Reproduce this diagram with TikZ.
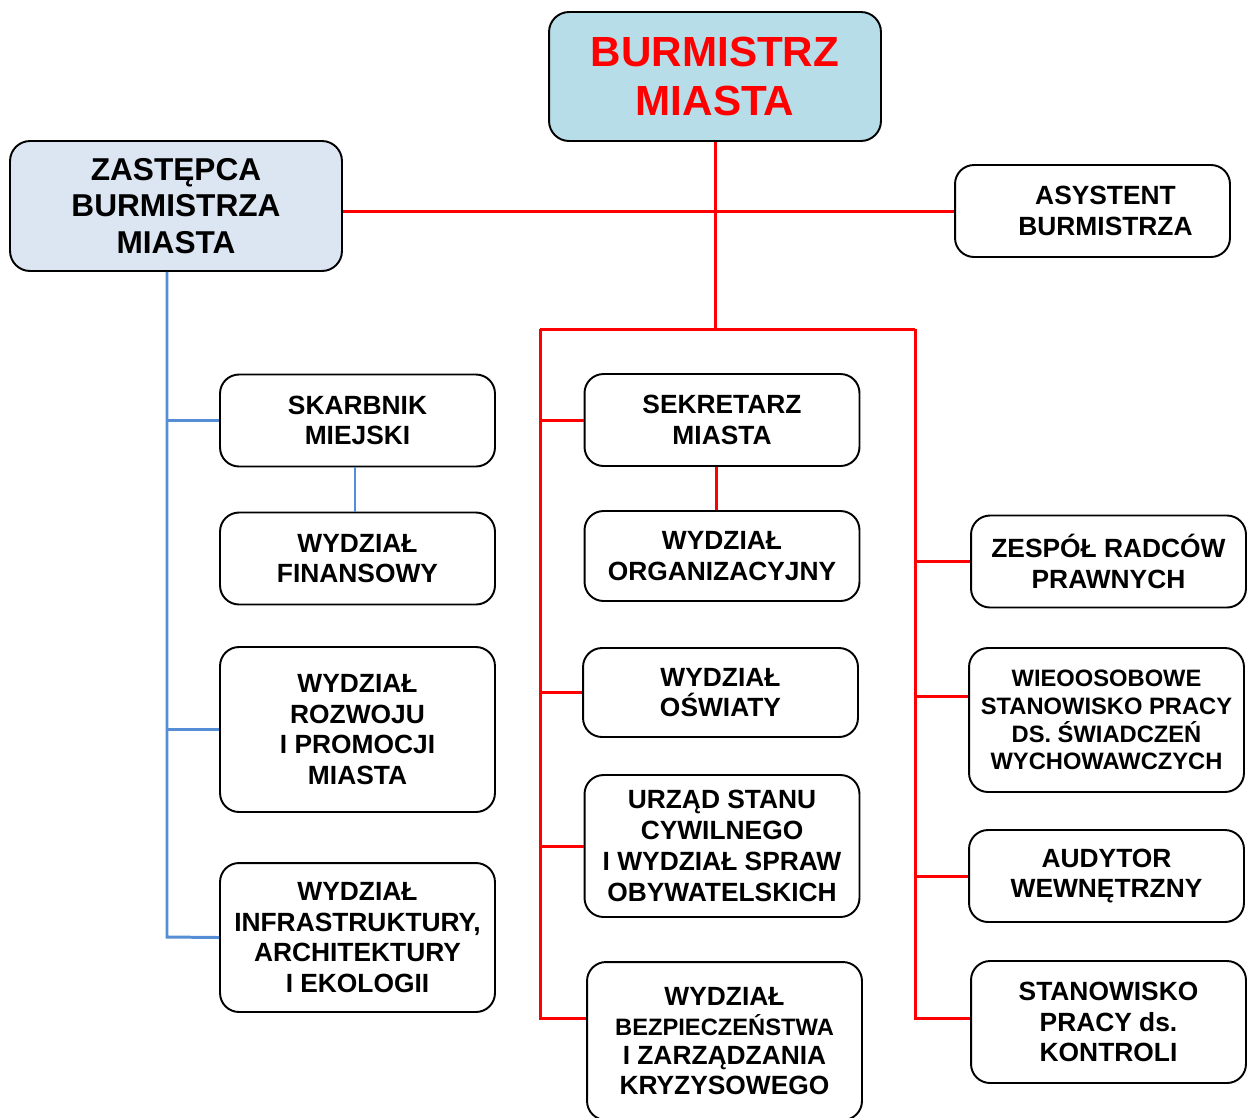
\documentclass[tikz,border=0pt]{standalone}
\usepackage{fontspec}
\setmainfont{Liberation Sans}
\definecolor{burmfill}{RGB}{183,222,232}
\definecolor{zastfill}{RGB}{220,230,242}
\definecolor{blueline}{RGB}{85,142,213}
\tikzset{
  box/.style={draw,line width=1.1pt,rounded corners=0.38cm,align=center,inner sep=0pt,
    font=\bfseries\fontsize{15}{17.5}\selectfont,minimum width=5.5cm,minimum height=1.84cm},
  redline/.style={draw=red,line width=1.7pt},
  blueline/.style={draw=blueline,line width=1.7pt}
}
\begin{document}
\begin{tikzpicture}[x=0.02cm,y=-0.02cm]

      \useasboundingbox (0,0) rectangle (1247,1117);

      \begin{scope}[every node/.style={box}]
        \node[fill=burmfill,text=red,rounded corners=0.4cm,minimum width=6.64cm,minimum height=2.58cm,
          font=\bfseries\fontsize{24}{28.4}\selectfont] (burm) at (715,76.5) {BURMISTRZ\\MIASTA};
        \node[fill=zastfill,rounded corners=0.4cm,minimum width=6.64cm,minimum height=2.6cm,
          font=\bfseries\fontsize{18}{20.8}\selectfont] (zast) at (176,206) {ZASTĘPCA\\BURMISTRZA\\MIASTA};
        \node (asys)  at (1092.5,211)  {\hspace*{0.52cm}ASYSTENT\\\hspace*{0.52cm}BURMISTRZA};
        \node (skarb) at (357.5,420.5) {SKARBNIK\\MIEJSKI};
        \node (wfin)  at (357.5,558.5) {WYDZIAŁ\\FINANSOWY};
        \node[minimum height=3.3cm] (wroz) at (357.5,729.5) {WYDZIAŁ\\ROZWOJU\\I PROMOCJI\\MIASTA};
        \node[minimum height=2.98cm] (winf) at (357.5,937.5) {WYDZIAŁ\\INFRASTRUKTURY,\\ARCHITEKTURY\\I EKOLOGII};
        \node (sekr)  at (722,420)     {SEKRETARZ\\MIASTA};
        \node[minimum height=1.8cm] (worg) at (722,556) {WYDZIAŁ\\ORGANIZACYJNY};
        \node[minimum height=1.78cm] (wosw) at (720.5,692.5) {WYDZIAŁ\\OŚWIATY};
        \node[minimum height=2.84cm] (usc) at (722,846) {URZĄD STANU\\CYWILNEGO\\I WYDZIAŁ SPRAW\\OBYWATELSKICH};
        \node[minimum height=3.16cm,font=\bfseries\fontsize{15}{16.9}\selectfont] (wbez) at (724.5,1041)
          {WYDZIAŁ\\{\fontsize{13.5}{16.9}\selectfont BEZPIECZEŃSTWA}\\I ZARZĄDZANIA\\KRYZYSOWEGO};
        \node (zesp)  at (1108.5,561.5) {ZESPÓŁ RADCÓW\\PRAWNYCH};
        \node[minimum height=2.88cm,font=\bfseries\fontsize{13.5}{15.8}\selectfont] (wieo) at (1106.5,720)
          {WIEOOSOBOWE\\STANOWISKO PRACY\\DS. ŚWIADCZEŃ\\WYCHOWAWCZYCH};
        \node (audyt) at (1106.5,876)  {AUDYTOR\\WEWNĘTRZNY};
        \node[minimum height=2.44cm] (stan) at (1108.5,1022) {STANOWISKO\\PRACY ds.\\KONTROLI};
      \end{scope}

      \coordinate (rl) at (540,329);
      \coordinate (rr) at (915,329);
      \coordinate (lb) at (540,1018);
      \coordinate (rb) at (915,1018);
      \coordinate (wb) at (915,696);
      \coordinate (sw) at (716,0);
      \coordinate (sk) at (355,0);
      \coordinate (bb) at (167,937);

      \begin{scope}[redline]
        \draw (burm) -- (burm |- rl);
        \draw (zast.east |- asys.west) -- (asys.west);
        \draw (rl) -- (rr);
        \draw (rl) -- (lb) -- (lb -| wbez.west);
        \draw (rl |- sekr) -- (sekr.west);
        \draw (rl |- wosw) -- (wosw.west);
        \draw (rl |- usc) -- (usc.west);
        \draw (sekr.south -| sw) -- (worg.north -| sw);
        \draw (rr) -- (rb) -- (rb -| stan.west);
        \draw (rr |- zesp) -- (zesp.west);
        \draw (wb) -- (wb -| wieo.west);
        \draw (rr |- audyt) -- (audyt.west);
      \end{scope}

      \begin{scope}[blueline]
        \draw (zast.south -| bb) -- (bb) -- (winf.west);
        \draw (bb |- skarb) -- (skarb.west);
        \draw (bb |- wroz) -- (wroz.west);
        \draw (skarb.south -| sk) -- (wfin.north -| sk);
      \end{scope}

    \end{tikzpicture}
\end{document}
